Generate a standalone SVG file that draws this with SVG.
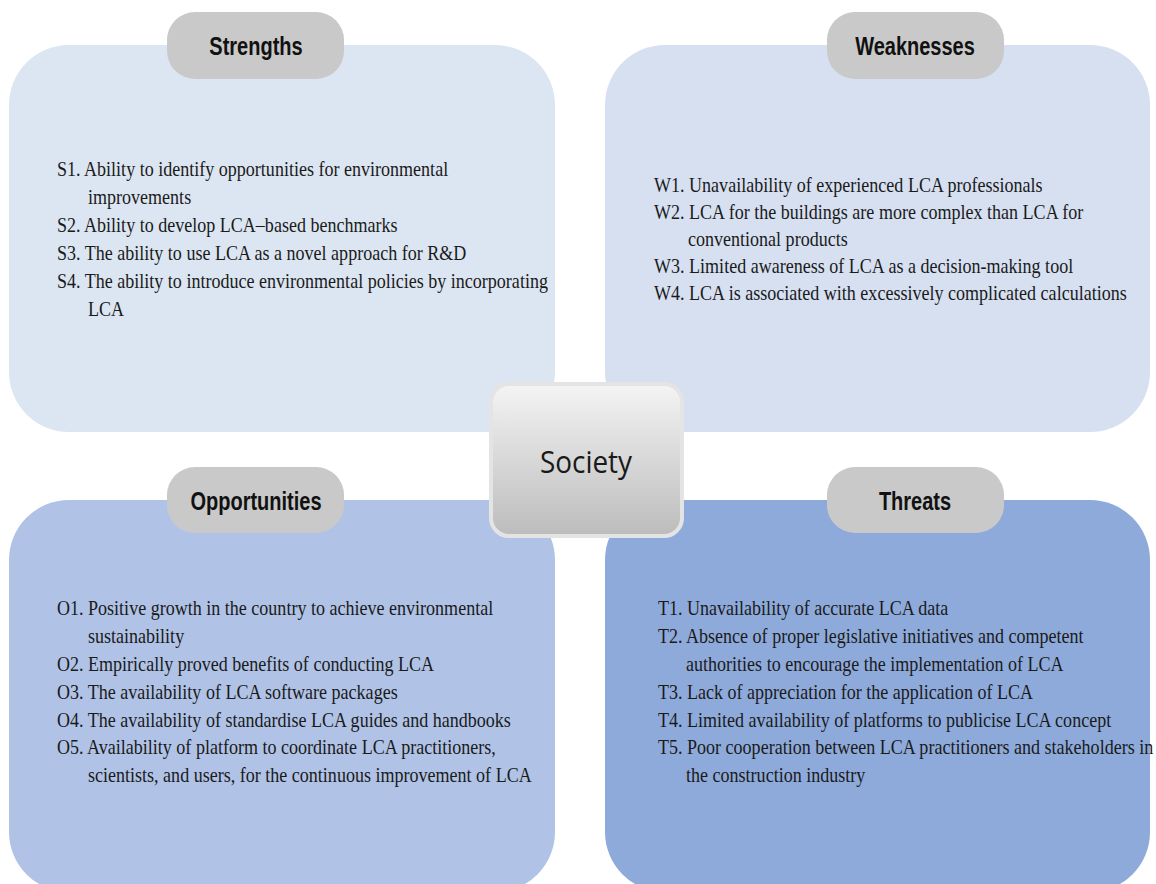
<svg xmlns="http://www.w3.org/2000/svg" width="1156" height="884" viewBox="0 0 1156 884">
  <style>
    .tab { fill: #c9c9c9; }
    .tabtxt { font-family: "Liberation Sans", Arial, sans-serif; font-weight: bold; font-size: 25px; fill: #111; text-anchor: middle; }
    .body { font-family: "Liberation Serif", "Times New Roman", serif; font-size: 22px; fill: #1a1a1a; }
    .centre { font-family: "Open Sans", "Noto Sans", sans-serif; font-size: 31px; fill: #1a1a1a; text-anchor: middle; }
  </style>
  <defs>
    <linearGradient id="hubFill" x1="0" y1="0" x2="0" y2="1">
      <stop offset="0" stop-color="#f4f4f4"/>
      <stop offset="1" stop-color="#bcbcbc"/>
    </linearGradient>
  </defs>
  <rect width="1156" height="884" fill="#ffffff"/>

  <!-- Strengths quadrant -->
  <g id="strengths">
    <rect x="9" y="45" width="546" height="387" rx="60" fill="#dce6f2"/>
    <rect class="tab" x="167" y="12" width="177" height="67" rx="28"/>
    <text class="tabtxt" transform="translate(256 55) scale(0.8 1)">Strengths</text>
    <g transform="scale(0.82 1)">
      <text class="body" x="69.5" y="176">S1. Ability to identify opportunities for environmental</text>
      <text class="body" x="107.3" y="204">improvements</text>
      <text class="body" x="69.5" y="232">S2. Ability to develop LCA–based benchmarks</text>
      <text class="body" x="69.5" y="260">S3. The ability to use LCA as a novel approach for R&amp;D</text>
      <text class="body" x="69.5" y="288">S4. The ability to introduce environmental policies by incorporating</text>
      <text class="body" x="107.3" y="316">LCA</text>
    </g>
  </g>

  <!-- Weaknesses quadrant -->
  <g id="weaknesses">
    <rect x="605" y="45" width="545" height="387" rx="60" fill="#d6e0f1"/>
    <rect class="tab" x="827" y="12" width="177" height="67" rx="28"/>
    <text class="tabtxt" transform="translate(915 55) scale(0.8 1)">Weaknesses</text>
    <g transform="scale(0.82 1)">
      <text class="body" x="797.6" y="192">W1. Unavailability of experienced LCA professionals</text>
      <text class="body" x="797.6" y="219">W2. LCA for the buildings are more complex than LCA for</text>
      <text class="body" x="839.0" y="246">conventional products</text>
      <text class="body" x="797.6" y="273">W3. Limited awareness of LCA as a decision-making tool</text>
      <text class="body" x="797.6" y="300">W4. LCA is associated with excessively complicated calculations</text>
    </g>
  </g>

  <!-- Opportunities quadrant -->
  <g id="opportunities">
    <rect x="9" y="500" width="546" height="392" rx="60" fill="#b0c3e6"/>
    <rect class="tab" x="167" y="467" width="177" height="66" rx="28"/>
    <text class="tabtxt" transform="translate(256 510) scale(0.8 1)">Opportunities</text>
    <g transform="scale(0.82 1)">
      <text class="body" x="69.5" y="615">O1. Positive growth in the country to achieve environmental</text>
      <text class="body" x="107.3" y="643">sustainability</text>
      <text class="body" x="69.5" y="671">O2. Empirically proved benefits of conducting LCA</text>
      <text class="body" x="69.5" y="699">O3. The availability of LCA software packages</text>
      <text class="body" x="69.5" y="727">O4. The availability of standardise LCA guides and handbooks</text>
      <text class="body" x="69.5" y="754">O5. Availability of platform to coordinate LCA practitioners,</text>
      <text class="body" x="107.3" y="782">scientists, and users, for the continuous improvement of LCA</text>
    </g>
  </g>

  <!-- Threats quadrant -->
  <g id="threats">
    <rect x="605" y="500" width="545" height="392" rx="60" fill="#8eaadb"/>
    <rect class="tab" x="827" y="467" width="177" height="66" rx="28"/>
    <text class="tabtxt" transform="translate(915 510) scale(0.8 1)">Threats</text>
    <g transform="scale(0.82 1)">
      <text class="body" x="802.4" y="615">T1. Unavailability of accurate LCA data</text>
      <text class="body" x="802.4" y="643">T2. Absence of proper legislative initiatives and competent</text>
      <text class="body" x="836.6" y="671">authorities to encourage the implementation of LCA</text>
      <text class="body" x="802.4" y="699">T3. Lack of appreciation for the application of LCA</text>
      <text class="body" x="802.4" y="727">T4. Limited availability of platforms to publicise LCA concept</text>
      <text class="body" x="802.4" y="754">T5. Poor cooperation between LCA practitioners and stakeholders in</text>
      <text class="body" x="836.6" y="782">the construction industry</text>
    </g>
  </g>

  <!-- Central hub -->
  <g id="society">
    <rect x="491" y="384" width="191" height="152" rx="18" fill="url(#hubFill)" stroke="#e4e4e4" stroke-width="4"/>
    <text class="centre" transform="translate(586 473) scale(0.9 1)">Society</text>
  </g>

  <g id="connectors"/>
</svg>
